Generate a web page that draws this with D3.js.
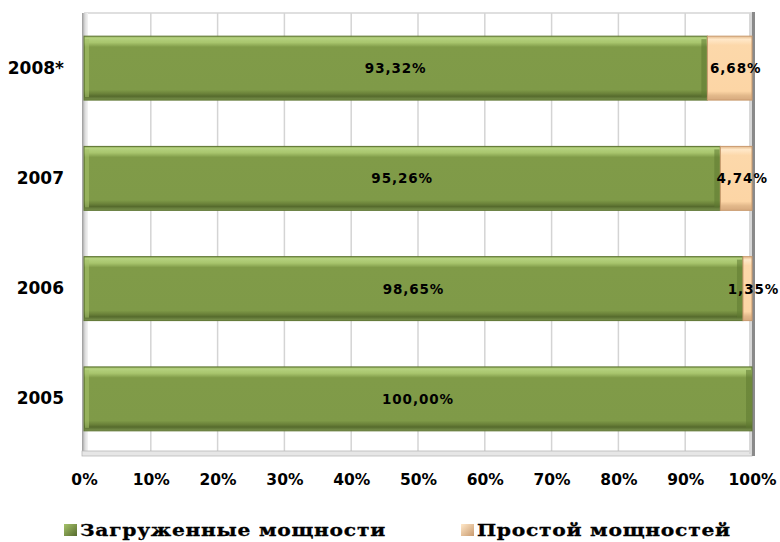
<!DOCTYPE html>
<html><head><meta charset="utf-8">
<script src="https://cdn.jsdelivr.net/npm/d3@7/dist/d3.min.js"></script>
<style>body{margin:0;background:#fff}svg{display:block}</style>
</head><body>
<script>
const categories = ["2008*", "2007", "2006", "2005"];
const loaded = [93.32, 95.26, 98.65, 100.00];
const idle = [6.68, 4.74, 1.35, 0];
const loadedLabels = ["93,32%", "95,26%", "98,65%", "100,00%"];
const idleLabels = ["6,68%", "4,74%", "1,35%", ""];
const tickValues = [0,10,20,30,40,50,60,70,80,90,100];
const seriesNames = ["Загруженные мощности", "Простой мощностей"];

const W = 780, H = 542;
const svg = d3.select("body").append("svg").attr("width", W).attr("height", H);
const defs = svg.append("defs");
const m = {left: 84, right: 752, top: 13, bottom: 454};

const x = d3.scaleLinear().domain([0,100]).range([m.left, m.right]);
const y = d3.scaleBand().domain(categories).range([m.top, m.bottom]).paddingInner(0.42).paddingOuter(0.21);

function vgrad(id, stops){
  const g = defs.append("linearGradient").attr("id", id).attr("x1",0).attr("y1",0).attr("x2",0).attr("y2",1);
  stops.forEach(s=>g.append("stop").attr("offset",s[0]).attr("stop-color",s[1]));
}
vgrad("gGreen", [[0,"#8fa957"],[0.03,"#b5d27f"],[0.1,"#a8c56d"],[0.17,"#809b48"],[0.84,"#7f9a48"],[0.9,"#6a8139"],[0.94,"#566b2d"],[1,"#7c9450"]]);
vgrad("gTan", [[0,"#e3b98b"],[0.05,"#ffe8c9"],[0.14,"#fcd8aa"],[0.86,"#fcd5a5"],[0.93,"#e2b88a"],[1,"#d7aa7e"]]);
const wall = defs.append("linearGradient").attr("id","gWall").attr("x1",0).attr("x2",1);
wall.append("stop").attr("offset",0).attr("stop-color","#9a9a9a");
wall.append("stop").attr("offset",0.5).attr("stop-color","#dcdcdc");
wall.append("stop").attr("offset",1).attr("stop-color","#f4f4f4");

svg.append("g").selectAll("line").data(tickValues).join("line")
  .attr("x1", d=>x(d)).attr("x2", d=>x(d)).attr("y1", m.top).attr("y2", m.bottom)
  .attr("stroke", "#d4d4d4").attr("stroke-width", 1.5);
svg.append("line").attr("x1", m.left).attr("x2", m.right).attr("y1", m.top).attr("y2", m.top)
  .attr("stroke","#d4d4d4").attr("stroke-width",1.5);
svg.append("rect").attr("x", m.left-2).attr("y", m.top).attr("width", 6).attr("height", m.bottom-m.top).attr("fill","url(#gWall)");
svg.append("rect").attr("x", m.left-2).attr("y", m.bottom-3).attr("width", m.right-m.left+2).attr("height", 5).attr("fill","#e6e6e6").attr("stroke","#b8b8b8").attr("stroke-width",0.8);
svg.append("rect").attr("x", m.right).attr("y", m.top-1).attr("width", 3).attr("height", m.bottom-m.top+3).attr("fill","#8a8a8a");
svg.append("rect").attr("x", m.right-3).attr("y", m.top).attr("width", 3).attr("height", m.bottom-m.top).attr("fill","#d8d8d8");

const bh = y.bandwidth();
const gb = svg.append("g");
gb.selectAll("rect.l").data(categories).join("rect").attr("class","l")
  .attr("x", x(0)).attr("y", d=>y(d)).attr("width", (d,i)=>x(loaded[i])-x(0)).attr("height", bh)
  .attr("fill","url(#gGreen)").attr("stroke","#5d7431").attr("stroke-width",1);
gb.selectAll("rect.i").data(categories).join("rect").attr("class","i")
  .attr("x", (d,i)=>x(loaded[i])).attr("y", d=>y(d)).attr("width", (d,i)=>x(loaded[i]+idle[i])-x(loaded[i])).attr("height", bh)
  .attr("fill","url(#gTan)").attr("stroke","#c99a6e").attr("stroke-width",1)
  .style("display",(d,i)=>idle[i]>0?null:"none");
gb.selectAll("rect.s").data(categories).join("rect").attr("class","s")
  .attr("x", (d,i)=>x(loaded[i])-6).attr("y", d=>y(d)+3).attr("width", 5).attr("height", bh-6)
  .attr("fill","#5f7a32").attr("opacity",0.55);
gb.selectAll("rect.ls").data(categories).join("rect").attr("class","ls")
  .attr("x", x(0)+1).attr("y", d=>y(d)+3).attr("width", 4).attr("height", bh-6)
  .attr("fill","#a5c26b").attr("opacity",0.6);

const lblFont = "'DejaVu Sans', Verdana, sans-serif";
gb.selectAll("text.l").data(categories).join("text").attr("class","l")
  .attr("x", (d,i)=>(x(0)+x(loaded[i]))/2).attr("y", d=>y(d)+bh/2+5)
  .attr("text-anchor","middle").attr("font-family",lblFont).attr("font-weight","bold").attr("font-size",13.5)
  .attr("letter-spacing",0.9).attr("fill","#000").text((d,i)=>loadedLabels[i]);
gb.selectAll("text.i").data(categories).join("text").attr("class","i")
  .attr("x", (d,i)=>(x(loaded[i])+x(100))/2+6).attr("y", d=>y(d)+bh/2+5)
  .attr("text-anchor","middle").attr("font-family",lblFont).attr("font-weight","bold").attr("font-size",13.5)
  .attr("letter-spacing",0.9).attr("fill","#000").text((d,i)=>idleLabels[i]);

const xAxis = svg.append("g").attr("transform",`translate(0,${m.bottom})`)
  .call(d3.axisBottom(x).tickValues(tickValues).tickFormat(d=>d+"%").tickSize(0).tickPadding(20));
xAxis.select(".domain").remove();
xAxis.selectAll("text").attr("font-family",lblFont).attr("font-weight","bold").attr("font-size",15.5).attr("fill","#000");

const yAxis = svg.append("g").attr("transform",`translate(${m.left},0)`)
  .call(d3.axisLeft(y).tickSize(0).tickPadding(20));
yAxis.select(".domain").remove();
yAxis.selectAll("text").attr("font-family",lblFont).attr("font-weight","bold").attr("font-size",17).attr("fill","#000");

const lg = svg.append("g");
const legItems = [{x:64, w:306, fill:"url(#gLegG)"},{x:461, w:254, fill:"url(#gLegT)"}];
const lgG = defs.append("linearGradient").attr("id","gLegG").attr("x1",0).attr("y1",0).attr("x2",1).attr("y2",1);
lgG.append("stop").attr("offset",0).attr("stop-color","#a6c36b");lgG.append("stop").attr("offset",1).attr("stop-color","#566b2d");
const lgT = defs.append("linearGradient").attr("id","gLegT").attr("x1",0).attr("y1",0).attr("x2",1).attr("y2",1);
lgT.append("stop").attr("offset",0).attr("stop-color","#ffe8c9");lgT.append("stop").attr("offset",1).attr("stop-color","#c99a6e");
lg.selectAll("rect").data(seriesNames).join("rect")
  .attr("x",(d,i)=>legItems[i].x).attr("y",524).attr("width",13).attr("height",12).attr("fill",(d,i)=>legItems[i].fill);
lg.selectAll("text").data(seriesNames).join("text")
  .attr("font-family","'DejaVu Serif', serif").attr("font-weight","bold").attr("font-size",17)
  .attr("letter-spacing",0.6).attr("stroke","#000").attr("stroke-width",0.3)
  .attr("fill","#000").text(d=>d)
  .each(function(d,i){
    const w = this.getComputedTextLength();
    const sx = legItems[i].w / w;
    d3.select(this).attr("transform",`translate(${legItems[i].x+16},536) scale(${sx},1)`);
  });
</script>
</body></html>
